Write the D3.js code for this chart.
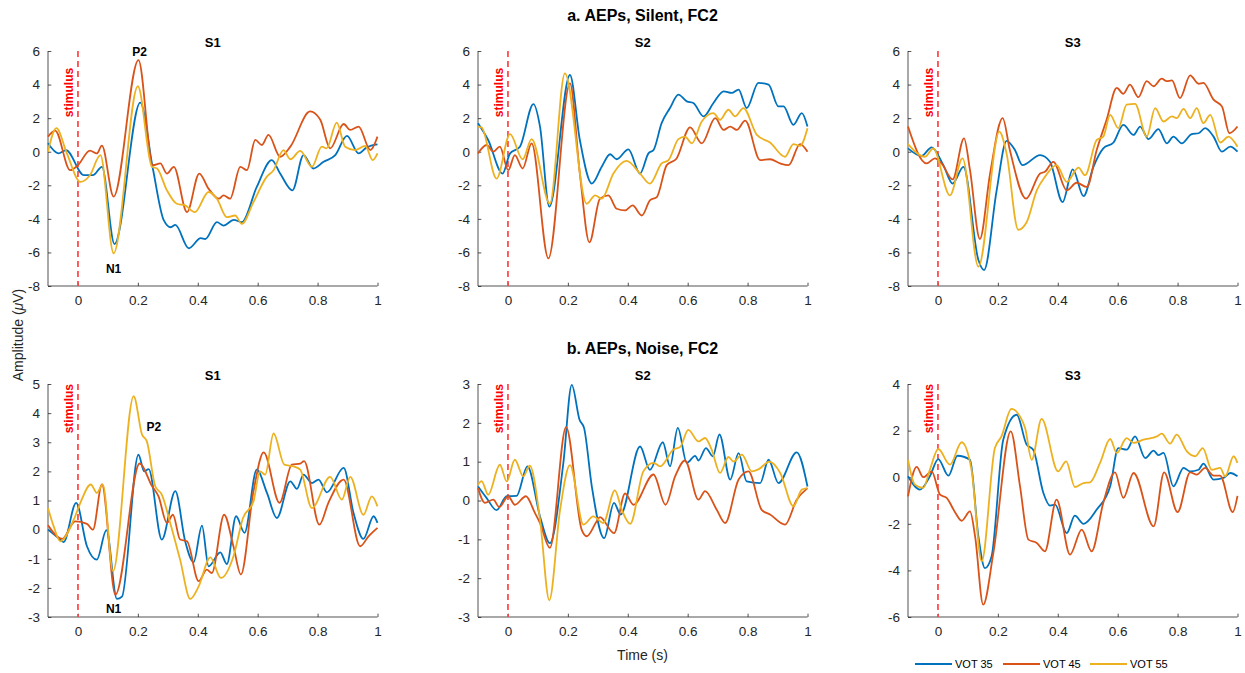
<!DOCTYPE html>
<html>
<head>
<meta charset="utf-8">
<script src="https://cdn.jsdelivr.net/npm/d3@7"></script>
<style>
  body { margin: 0; background: #fff; }
  svg { display: block; }
  text { font-family: "Liberation Sans", Arial, Helvetica, sans-serif; }
</style>
</head>
<body>
<svg id="fig" width="1245" height="673"></svg>
<script>
// ---- data: averaged AEP waveforms, [time (s), amplitude (µV)] ----
const timeTicks = [0, 0.2, 0.4, 0.6, 0.8, 1];
const seriesNames = ["VOT 35", "VOT 45", "VOT 55"];
const seriesColors = ["#0072BD", "#D95319", "#EDB120"];
const rowTitles = ["a. AEPs, Silent, FC2", "b. AEPs, Noise, FC2"];
const subjectNames = ["S1", "S2", "S3"];

// Silent condition
const silentS1_vot35 = [[-0.1,0.5],[-0.065,-0.1],[-0.04,0.1],[0.02,-1.4],[0.05,-1.4],[0.08,-0.9],[0.122,-5.5],[0.208,2.92],[0.25,-1.0],[0.286,-4.06],[0.31,-4.5],[0.325,-4.36],[0.37,-5.75],[0.41,-5.15],[0.425,-5.2],[0.464,-4.2],[0.486,-4.4],[0.52,-4.06],[0.547,-4.2],[0.597,-2.1],[0.647,-0.5],[0.675,-1.3],[0.716,-2.3],[0.753,-0.2],[0.786,-1.0],[0.82,-0.6],[0.859,-0.2],[0.898,0.94],[0.937,-0.1],[0.964,0.26],[1,0.44]];
const silentS1_vot45 = [[-0.1,0.9],[-0.076,1.26],[-0.026,-1.1],[0,-0.8],[0.04,0.07],[0.063,-0.1],[0.08,0.36],[0.119,-2.67],[0.202,5.46],[0.25,-0.8],[0.275,-0.7],[0.297,-1.3],[0.32,-0.9],[0.364,-3.6],[0.405,-1.3],[0.436,-2.2],[0.47,-2.8],[0.486,-2.6],[0.508,-2.8],[0.542,-0.9],[0.564,-1.1],[0.592,0.7],[0.614,0.4],[0.636,1.0],[0.675,-0.3],[0.709,0.3],[0.775,2.4],[0.809,1.9],[0.842,0.2],[0.887,1.65],[0.909,1.3],[0.937,1.5],[0.976,0.1],[1,0.9]];
const silentS1_vot55 = [[-0.1,0.0],[-0.072,1.4],[-0.037,-0.1],[0.008,-1.8],[0.04,-1.4],[0.075,-0.2],[0.119,-6.05],[0.2,3.9],[0.247,-0.9],[0.264,-1.0],[0.297,-2.3],[0.33,-3.1],[0.358,-3.2],[0.39,-3.6],[0.436,-2.4],[0.464,-2.8],[0.497,-3.9],[0.525,-3.8],[0.547,-4.3],[0.586,-3.0],[0.63,-1.5],[0.653,-1.1],[0.686,0.1],[0.709,-0.45],[0.742,0.05],[0.781,-0.9],[0.814,0.3],[0.83,0.2],[0.864,1.73],[0.892,0.3],[0.925,0.1],[0.959,0.35],[0.984,-0.5],[1,-0.1]];

const silentS2_vot35 = [[-0.1,1.7],[-0.066,0.7],[-0.018,-1.3],[0.007,-0.1],[0.04,0.3],[0.085,2.84],[0.107,1.5],[0.138,-3.27],[0.207,4.57],[0.24,0.7],[0.28,-1.9],[0.313,-0.9],[0.341,-0.15],[0.363,-0.45],[0.402,0.14],[0.441,-1.3],[0.469,-0.1],[0.486,0.1],[0.513,1.7],[0.541,2.6],[0.569,3.4],[0.597,3.0],[0.619,2.9],[0.653,2.1],[0.686,2.9],[0.72,3.6],[0.747,3.5],[0.77,3.7],[0.797,2.6],[0.836,4.1],[0.87,4.0],[0.903,2.7],[0.92,2.7],[0.953,1.6],[0.981,2.3],[1,1.5]];
const silentS2_vot45 = [[-0.1,-0.1],[-0.071,0.4],[-0.049,0.0],[-0.027,0.3],[0.001,-1.1],[0.023,-0.2],[0.049,-1.0],[0.079,0.5],[0.135,-6.35],[0.207,4.07],[0.24,-1.3],[0.272,-5.4],[0.307,-2.8],[0.335,-2.6],[0.363,-3.4],[0.391,-3.5],[0.416,-3.2],[0.447,-3.8],[0.474,-2.9],[0.497,-2.7],[0.53,-0.8],[0.563,-0.4],[0.608,1.45],[0.647,0.5],[0.692,2.0],[0.72,1.3],[0.742,1.5],[0.764,1.3],[0.792,1.85],[0.842,-0.5],[0.875,-0.45],[0.909,-0.7],[0.937,-0.8],[0.975,0.45],[1,0.0]];
const silentS2_vot55 = [[-0.1,1.5],[-0.088,1.45],[-0.038,-1.6],[0.007,1.05],[0.049,-0.45],[0.079,0.75],[0.14,-3.1],[0.19,4.67],[0.263,-3.1],[0.291,-2.6],[0.313,-2.8],[0.352,-1.3],[0.396,-0.55],[0.441,-1.3],[0.474,-1.9],[0.513,-0.7],[0.536,-0.5],[0.569,0.75],[0.591,0.9],[0.614,0.5],[0.647,1.8],[0.686,2.3],[0.708,1.9],[0.736,2.5],[0.758,2.1],[0.786,2.6],[0.831,1.0],[0.875,0.55],[0.925,-0.3],[0.953,0.45],[0.975,0.35],[1,1.4]];

const silentS3_vot35 = [[-0.1,0.2],[-0.055,-0.25],[-0.021,0.26],[0.018,-0.8],[0.049,-1.9],[0.085,-0.9],[0.135,-6.45],[0.154,-7.05],[0.196,-2.3],[0.229,0.65],[0.257,0.1],[0.282,-0.8],[0.341,-0.2],[0.374,-0.6],[0.416,-3.0],[0.45,-1.05],[0.486,-2.65],[0.519,-0.9],[0.552,0.2],[0.586,0.55],[0.619,1.6],[0.653,1.0],[0.675,1.5],[0.703,0.75],[0.736,1.35],[0.764,0.5],[0.786,0.9],[0.814,0.5],[0.847,1.05],[0.87,1.1],[0.892,1.4],[0.92,0.9],[0.948,0.0],[0.976,0.3],[1,0.0]];
const silentS3_vot45 = [[-0.1,1.5],[-0.038,-0.7],[-0.01,-0.4],[0.012,-0.7],[0.049,-1.65],[0.087,0.8],[0.107,-1.1],[0.14,-5.2],[0.174,-1.3],[0.216,2.0],[0.24,0.1],[0.294,-2.8],[0.341,-1.3],[0.357,-1.2],[0.385,-0.6],[0.43,-2.3],[0.463,-1.85],[0.497,-2.1],[0.53,0.1],[0.563,1.9],[0.597,3.8],[0.619,3.45],[0.641,4.0],[0.669,3.25],[0.697,4.2],[0.72,3.9],[0.747,4.35],[0.764,4.2],[0.781,4.25],[0.808,3.2],[0.842,4.55],[0.87,4.05],[0.886,4.1],[0.92,3.1],[0.948,2.7],[0.973,1.1],[1,1.5]];
const silentS3_vot55 = [[-0.1,0.45],[-0.043,-0.3],[-0.016,0.2],[0.04,-2.6],[0.082,-0.4],[0.135,-6.85],[0.205,1.2],[0.229,-0.1],[0.268,-4.65],[0.296,-4.2],[0.33,-2.3],[0.357,-1.5],[0.396,-0.8],[0.43,-1.8],[0.469,-0.95],[0.491,-1.4],[0.53,0.7],[0.552,0.9],[0.575,2.2],[0.602,1.4],[0.63,2.8],[0.658,2.85],[0.697,0.9],[0.725,2.6],[0.753,1.8],[0.781,2.1],[0.797,2.0],[0.82,2.55],[0.842,2.0],[0.864,2.6],[0.886,1.7],[0.909,2.2],[0.942,0.55],[0.97,0.9],[1,0.3]];

// Noise condition
const noiseS1_vot35 = [[-0.1,0.0],[-0.065,-0.29],[-0.048,-0.43],[-0.006,0.92],[0.03,-0.57],[0.063,-1.03],[0.095,-0.02],[0.13,-2.38],[0.147,-2.3],[0.202,2.57],[0.221,2.0],[0.236,2.08],[0.28,-0.34],[0.325,1.32],[0.358,-0.4],[0.386,-1.12],[0.414,0.14],[0.436,-1.26],[0.475,-0.78],[0.497,-1.18],[0.528,0.46],[0.556,-0.11],[0.597,2.06],[0.631,1.26],[0.664,0.4],[0.709,1.66],[0.731,1.4],[0.753,1.89],[0.781,1.6],[0.803,1.72],[0.831,1.28],[0.887,2.12],[0.92,0.57],[0.953,-0.32],[0.987,0.46],[1,0.23]];
const noiseS1_vot45 = [[-0.1,0.15],[-0.053,-0.32],[-0.009,0.28],[0.03,0.2],[0.05,0.0],[0.08,1.55],[0.125,-2.23],[0.206,2.27],[0.247,1.5],[0.269,1.14],[0.297,0.23],[0.317,0.51],[0.341,-0.34],[0.364,-0.4],[0.403,-1.77],[0.43,-1.37],[0.447,-1.49],[0.488,0.51],[0.519,-0.57],[0.544,-1.54],[0.586,1.32],[0.62,2.65],[0.673,0.92],[0.714,2.23],[0.742,2.27],[0.755,2.35],[0.806,0.17],[0.836,0.92],[0.887,1.72],[0.942,-0.57],[0.97,-0.23],[1,0.06]];
const noiseS1_vot55 = [[-0.1,0.74],[-0.081,0.11],[-0.059,-0.4],[-0.014,0.34],[0.008,0.92],[0.043,1.55],[0.063,1.26],[0.083,1.55],[0.117,-1.43],[0.186,4.58],[0.214,3.26],[0.23,3.03],[0.258,1.49],[0.28,1.2],[0.308,0.23],[0.341,-1.03],[0.375,-2.38],[0.403,-1.95],[0.442,-0.95],[0.477,-1.66],[0.519,-0.92],[0.551,0.4],[0.586,0.97],[0.608,2.0],[0.625,1.89],[0.653,3.3],[0.689,2.23],[0.72,2.17],[0.742,2.06],[0.781,0.74],[0.842,1.81],[0.881,1.03],[0.909,1.81],[0.953,0.51],[0.981,1.14],[1,0.8]];

const noiseS2_vot35 = [[-0.1,0.36],[-0.071,0.06],[-0.038,-0.25],[-0.004,0.11],[0.029,0.12],[0.065,0.88],[0.107,-0.41],[0.14,-1.1],[0.185,0.97],[0.213,2.98],[0.239,2.08],[0.254,1.87],[0.28,0.36],[0.321,-0.97],[0.354,-0.06],[0.376,-0.36],[0.441,1.39],[0.474,0.79],[0.517,1.5],[0.541,0.88],[0.567,1.87],[0.597,0.97],[0.625,1.15],[0.636,1.03],[0.661,1.35],[0.684,1.14],[0.706,1.7],[0.742,0.54],[0.77,1.22],[0.797,0.49],[0.842,0.45],[0.87,1.05],[0.903,0.45],[0.964,1.24],[1,0.36]];
const noiseS2_vot45 = [[-0.1,0.32],[-0.077,-0.06],[-0.049,0.02],[-0.029,-0.17],[0.001,0.11],[0.023,-0.11],[0.06,0.11],[0.09,-0.32],[0.107,-0.58],[0.14,-1.22],[0.194,1.89],[0.246,-0.75],[0.263,-0.92],[0.296,-0.54],[0.307,-0.43],[0.354,-0.84],[0.391,0.18],[0.419,-0.11],[0.486,0.67],[0.526,-0.11],[0.558,0.62],[0.591,1.03],[0.636,0.02],[0.658,0.24],[0.697,-0.24],[0.725,-0.58],[0.77,0.54],[0.803,0.75],[0.847,-0.24],[0.875,-0.36],[0.925,-0.62],[0.964,0.02],[1,0.32]];
const noiseS2_vot55 = [[-0.1,0.41],[-0.088,0.5],[-0.066,0.15],[-0.027,0.92],[-0.004,0.49],[0.023,1.05],[0.051,0.62],[0.073,0.9],[0.107,-0.49],[0.138,-2.57],[0.174,-0.24],[0.207,0.91],[0.252,-0.62],[0.285,-0.41],[0.318,-0.58],[0.357,0.26],[0.38,-0.24],[0.408,-0.6],[0.452,0.75],[0.486,0.97],[0.508,0.88],[0.552,1.31],[0.575,1.38],[0.602,1.82],[0.636,1.52],[0.658,1.61],[0.68,1.31],[0.708,0.71],[0.736,1.12],[0.753,1.0],[0.781,1.18],[0.814,0.75],[0.836,0.8],[0.873,1.0],[0.909,0.71],[0.953,-0.15],[0.981,0.28],[1,0.32]];

const noiseS3_vot35 = [[-0.1,0.04],[-0.06,-0.53],[-0.027,0.04],[0.001,0.78],[0.035,0.07],[0.065,0.92],[0.107,0.75],[0.135,-2.54],[0.157,-3.9],[0.179,-3.4],[0.218,1.61],[0.263,2.68],[0.296,1.4],[0.318,1.18],[0.352,-0.68],[0.374,-1.22],[0.391,-1.18],[0.43,-2.4],[0.457,-1.65],[0.486,-2.0],[0.53,-1.39],[0.575,-0.39],[0.602,1.25],[0.63,1.18],[0.658,1.75],[0.692,0.82],[0.72,1.14],[0.736,0.95],[0.753,1.04],[0.786,-0.39],[0.82,0.4],[0.842,0.25],[0.87,0.32],[0.886,0.58],[0.92,-0.1],[0.953,-0.03],[0.976,0.18],[1,0.04]];
const noiseS3_vot45 = [[-0.1,-0.82],[-0.071,0.44],[-0.049,0.0],[-0.021,0.25],[0.007,-0.75],[0.029,-0.89],[0.057,-1.5],[0.079,-1.87],[0.107,-1.47],[0.124,-2.54],[0.151,-5.47],[0.185,-3.25],[0.243,1.97],[0.274,-0.39],[0.302,-2.68],[0.33,-2.82],[0.357,-3.18],[0.396,-0.96],[0.441,-3.32],[0.48,-2.25],[0.513,-3.18],[0.552,-1.1],[0.591,0.21],[0.619,-0.89],[0.653,0.18],[0.72,-2.11],[0.755,0.21],[0.8,-1.5],[0.842,0.21],[0.864,0.11],[0.892,0.4],[0.92,0.07],[0.942,0.07],[0.984,-1.5],[1,-0.8]];
const noiseS3_vot55 = [[-0.1,0.75],[-0.077,-0.32],[-0.049,-0.46],[-0.027,0.32],[0.001,1.21],[0.04,0.54],[0.079,1.5],[0.112,0.32],[0.146,-3.61],[0.19,1.25],[0.212,1.75],[0.245,2.93],[0.274,2.61],[0.291,2.11],[0.313,0.75],[0.346,2.5],[0.401,0.25],[0.428,0.68],[0.457,-0.42],[0.486,-0.25],[0.508,-0.22],[0.541,0.61],[0.575,1.64],[0.597,1.04],[0.63,1.68],[0.653,1.47],[0.686,1.61],[0.731,1.75],[0.747,1.87],[0.775,1.44],[0.797,1.83],[0.831,1.11],[0.859,0.9],[0.884,1.25],[0.914,0.32],[0.942,0.4],[0.959,0.04],[0.987,0.9],[1,0.61]];

// y-axis ranges and tick values for each panel
const silentYDomain = [-8, 6];
const silentYTicks = [-8, -6, -4, -2, 0, 2, 4, 6];
const noiseS1YDomain = [-3, 5];
const noiseS1YTicks = [-3, -2, -1, 0, 1, 2, 3, 4, 5];
const noiseS2YDomain = [-3, 3];
const noiseS2YTicks = [-3, -2, -1, 0, 1, 2, 3];
const noiseS3YDomain = [-6, 4];
const noiseS3YTicks = [-6, -4, -2, 0, 2, 4];

// ---- layout ----
const colLeft = [48, 478, 908];
const plotW = 329.5;
const rowTop = [51, 384];
const plotH = [235, 233];
const axisColor = "#262626";
const fontAxis = 13.5;
const traceWidth = 1.8;

const panels = [
  { row: 0, col: 0, yDomain: silentYDomain, yTicks: silentYTicks, data: [silentS1_vot35, silentS1_vot45, silentS1_vot55], stimTop: 5,
    notes: [{ text: "P2", t: 0.206, v: 5.95 }, { text: "N1", t: 0.119, v: -6.95 }] },
  { row: 0, col: 1, yDomain: silentYDomain, yTicks: silentYTicks, data: [silentS2_vot35, silentS2_vot45, silentS2_vot55], stimTop: 5, notes: [] },
  { row: 0, col: 2, yDomain: silentYDomain, yTicks: silentYTicks, data: [silentS3_vot35, silentS3_vot45, silentS3_vot55], stimTop: 5, notes: [] },
  { row: 1, col: 0, yDomain: noiseS1YDomain, yTicks: noiseS1YTicks, data: [noiseS1_vot35, noiseS1_vot45, noiseS1_vot55], stimTop: 5,
    notes: [{ text: "P2", t: 0.253, v: 3.52 }, { text: "N1", t: 0.119, v: -2.72 }] },
  { row: 1, col: 1, yDomain: noiseS2YDomain, yTicks: noiseS2YTicks, data: [noiseS2_vot35, noiseS2_vot45, noiseS2_vot55], stimTop: 3, notes: [] },
  { row: 1, col: 2, yDomain: noiseS3YDomain, yTicks: noiseS3YTicks, data: [noiseS3_vot35, noiseS3_vot45, noiseS3_vot55], stimTop: 4, notes: [] }
];

const svg = d3.select("#fig");

panels.forEach(p => {
  const x0 = colLeft[p.col], y0 = rowTop[p.row], h = plotH[p.row];
  const x = d3.scaleLinear().domain([-0.1, 1]).range([x0, x0 + plotW]);
  const y = d3.scaleLinear().domain(p.yDomain).range([y0 + h, y0]);
  const g = svg.append("g");

  // subject title
  g.append("text")
    .attr("x", x0 + plotW / 2).attr("y", y0 - 4.5)
    .attr("text-anchor", "middle").attr("font-weight", "bold").attr("font-size", 13)
    .attr("fill", "#000").text(subjectNames[p.col]);

  // x axis (inward ticks, bottom line only)
  const xAxis = d3.axisBottom(x).tickValues(timeTicks).tickSize(-3.3).tickPadding(9)
    .tickFormat(d => d3.format("~g")(d));
  const gx = g.append("g").attr("transform", `translate(0,${y0 + h})`).call(xAxis);
  gx.select(".domain").attr("d", `M${x0},0H${x0 + plotW}`);

  // y axis
  const yAxis = d3.axisLeft(y).tickValues(p.yTicks).tickSize(-3.3).tickPadding(8)
    .tickFormat(d => d3.format("~g")(d).replace("−", "-"));
  const gy = g.append("g").attr("transform", `translate(${x0},0)`).call(yAxis);
  gy.select(".domain").attr("d", `M0,${y0}V${y0 + h}`);

  [gx, gy].forEach(ax => {
    ax.selectAll(".domain").attr("stroke", axisColor).attr("stroke-width", 0.8);
    ax.selectAll(".tick line").attr("stroke", axisColor).attr("stroke-width", 0.8);
    ax.selectAll(".tick text").attr("fill", axisColor).attr("font-size", fontAxis)
      .attr("font-family", "'Liberation Sans', Arial, sans-serif");
  });

  // stimulus onset marker
  g.append("line")
    .attr("x1", x(0)).attr("x2", x(0)).attr("y1", y0).attr("y2", y0 + h)
    .attr("stroke", "#FF4D4D").attr("stroke-width", 1.8).attr("stroke-dasharray", "6,4");
  g.append("text")
    .attr("transform", `translate(${x(0) - 5},${y(p.stimTop)}) rotate(-90)`)
    .attr("text-anchor", "end").attr("font-weight", "bold").attr("font-size", 12)
    .attr("fill", "#FF0000").text("stimulus");

  // waveforms
  const line = d3.line().x(d => x(d[0])).y(d => y(d[1])).curve(d3.curveMonotoneX);
  p.data.forEach((series, i) => {
    g.append("path").datum(series)
      .attr("d", line).attr("fill", "none")
      .attr("stroke", seriesColors[i]).attr("stroke-width", traceWidth)
      .attr("stroke-linejoin", "round");
  });

  // component labels
  p.notes.forEach(n => {
    g.append("text")
      .attr("x", x(n.t)).attr("y", y(n.v)).attr("dy", "0.35em")
      .attr("text-anchor", "middle").attr("font-weight", "bold").attr("font-size", 12)
      .attr("fill", "#000").text(n.text);
  });
});

// row titles
rowTitles.forEach((t, i) => {
  svg.append("text")
    .attr("x", 642.5).attr("y", i === 0 ? 21 : 354)
    .attr("text-anchor", "middle").attr("font-weight", "bold").attr("font-size", 16)
    .attr("fill", "#000").text(t);
});

// shared axis labels
const yl = svg.append("text")
  .attr("transform", "translate(23,335) rotate(-90)")
  .attr("text-anchor", "middle").attr("font-size", 14).attr("fill", axisColor);
yl.append("tspan").text("Amplitude (");
yl.append("tspan").attr("font-style", "italic").text("μ");
yl.append("tspan").text("V)");

svg.append("text")
  .attr("x", 642.5).attr("y", 660)
  .attr("text-anchor", "middle").attr("font-size", 14).attr("fill", axisColor)
  .text("Time (s)");

// legend
const legendX = [915, 1003, 1090];
const legend = svg.append("g");
seriesNames.forEach((name, i) => {
  legend.append("line")
    .attr("x1", legendX[i]).attr("x2", legendX[i] + 37).attr("y1", 664).attr("y2", 664)
    .attr("stroke", seriesColors[i]).attr("stroke-width", traceWidth);
  legend.append("text")
    .attr("x", legendX[i] + 40).attr("y", 668)
    .attr("font-size", 11).attr("fill", "#000").text(name);
});
</script>
</body>
</html>
